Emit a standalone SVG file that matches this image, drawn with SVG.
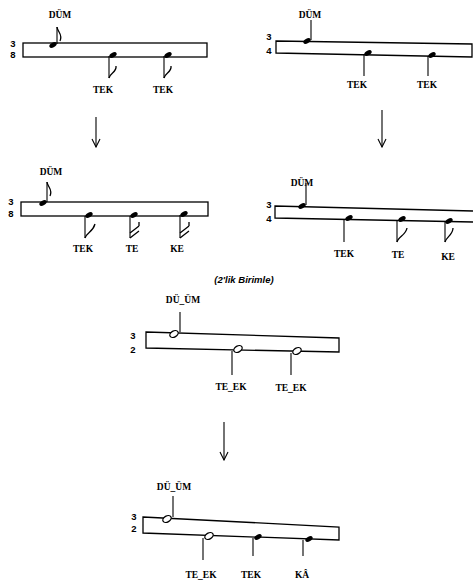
<svg xmlns="http://www.w3.org/2000/svg" width="473" height="585" viewBox="0 0 473 585">
<style>
.bar{fill:none;stroke:#000;stroke-width:1.3;stroke-linejoin:miter}
.stem{fill:none;stroke:#000;stroke-width:1.1}
.flag{fill:none;stroke:#000;stroke-width:1.3}
.head{fill:#000}
.hollow{fill:#fff;stroke:#000;stroke-width:1.3}
.lbl{font-family:"Liberation Serif",serif;font-size:9.5px;font-weight:bold;text-anchor:middle;fill:#000}
.ts{font-family:"Liberation Sans",sans-serif;font-size:9.5px;font-weight:bold;text-anchor:middle;fill:#000}
.cap{font-family:"Liberation Sans",sans-serif;font-size:9.5px;font-style:italic;font-weight:bold;text-anchor:middle;fill:#000}
.arrow{fill:none;stroke:#000;stroke-width:1.1}
</style>
<defs>
<marker id="ah" markerWidth="10" markerHeight="10" refX="9" refY="5" orient="auto" markerUnits="userSpaceOnUse" viewBox="0 0 10 10">
<path d="M1,1 L9,5 L1,9" fill="none" stroke="#000" stroke-width="1.1"/>
</marker>
</defs>
<rect width="473" height="585" fill="#fff"/>

<g id="panel1">
<rect class="bar" x="23" y="43" width="184" height="14"/>
<text class="ts" x="13" y="47">3</text>
<text class="ts" x="13" y="58">8</text>
<text class="lbl" x="60" y="18">DÜM</text>
<ellipse class="head" cx="53" cy="45" rx="4" ry="2.3" transform="rotate(-30 53 45)"/>
<path class="stem" d="M57,44 L57,27"/>
<path class="flag" d="M57,27 C58,33 63,34 60,41"/>
<ellipse class="head" cx="113" cy="55" rx="4" ry="2.3" transform="rotate(-30 113 55)"/>
<path class="stem" d="M109,56 L109,78"/>
<path class="flag" d="M109,78 C110,73 117,72 116,66"/>
<ellipse class="head" cx="168" cy="55" rx="4" ry="2.3" transform="rotate(-30 168 55)"/>
<path class="stem" d="M164,56 L164,78"/>
<path class="flag" d="M164,78 C165,73 172,72 171,66"/>
<text class="lbl" x="103" y="93">TEK</text>
<text class="lbl" x="163" y="93">TEK</text>
</g>

<g id="panel2">
<path class="bar" d="M276,41 L472,44 L472,57 L276,53 Z"/>
<text class="ts" x="269" y="40">3</text>
<text class="ts" x="269" y="54">4</text>
<text class="lbl" x="310" y="18">DÜM</text>
<ellipse class="head" cx="307" cy="41" rx="4" ry="2.3" transform="rotate(-30 307 41)"/>
<path class="stem" d="M311,40 L311,20"/>
<ellipse class="head" cx="368" cy="53" rx="4" ry="2.3" transform="rotate(-30 368 53)"/>
<path class="stem" d="M364,54 L364,76"/>
<ellipse class="head" cx="432" cy="55" rx="4" ry="2.3" transform="rotate(-30 432 55)"/>
<path class="stem" d="M428,56 L428,76"/>
<text class="lbl" x="357" y="88">TEK</text>
<text class="lbl" x="427" y="88">TEK</text>
</g>

<g id="panel3">
<rect class="bar" x="21" y="202" width="187" height="14"/>
<text class="ts" x="11" y="205">3</text>
<text class="ts" x="11" y="217">8</text>
<text class="lbl" x="51" y="175">DÜM</text>
<ellipse class="head" cx="43" cy="203" rx="4" ry="2.3" transform="rotate(-30 43 203)"/>
<path class="stem" d="M47,202 L47,182"/>
<path class="flag" d="M47,182 C48,188 53,189 50,196"/>
<ellipse class="head" cx="89" cy="215" rx="4" ry="2.3" transform="rotate(-30 89 215)"/>
<path class="stem" d="M85,216 L85,238"/>
<path class="flag" d="M85,238 C86,233 93,232 95,224"/>
<ellipse class="head" cx="134" cy="215" rx="4" ry="2.3" transform="rotate(-30 134 215)"/>
<path class="stem" d="M130,216 L130,238"/>
<path class="flag" d="M130,238 L139,231 M130,233 L139,226 M139,226 L139,222"/>
<ellipse class="head" cx="184" cy="214" rx="4" ry="2.3" transform="rotate(-30 184 214)"/>
<path class="stem" d="M180,215 L180,238"/>
<path class="flag" d="M180,238 L189,231 M180,233 L189,226 M189,226 L189,222"/>
<text class="lbl" x="83" y="252">TEK</text>
<text class="lbl" x="132" y="252">TE</text>
<text class="lbl" x="177" y="252">KE</text>
</g>

<g id="panel4">
<path class="bar" d="M473,211 L275,206 L275,218 L473,222"/>
<text class="ts" x="269" y="208">3</text>
<text class="ts" x="269" y="222">4</text>
<text class="lbl" x="302" y="186">DÜM</text>
<ellipse class="head" cx="302" cy="206" rx="4" ry="2.3" transform="rotate(-30 302 206)"/>
<path class="stem" d="M306,205 L306,183"/>
<ellipse class="head" cx="349" cy="218" rx="4" ry="2.3" transform="rotate(-30 349 218)"/>
<path class="stem" d="M344,219 L344,242"/>
<ellipse class="head" cx="402" cy="219" rx="4" ry="2.3" transform="rotate(-30 402 219)"/>
<path class="stem" d="M397,220 L397,242"/>
<path class="flag" d="M397,242 C398,237 406,235 407,228"/>
<ellipse class="head" cx="449" cy="221" rx="4" ry="2.3" transform="rotate(-30 449 221)"/>
<path class="stem" d="M445,222 L445,242"/>
<path class="flag" d="M445,242 C446,237 453,235 453,228"/>
<text class="lbl" x="344" y="257">TEK</text>
<text class="lbl" x="398" y="258">TE</text>
<text class="lbl" x="448" y="260">KE</text>
</g>

<g id="caption">
<text class="cap" x="244" y="283">(2'lik Birimle)</text>
</g>

<g id="panel5">
<path class="bar" d="M146,332 L339,338 L339,352 L146,348 Z"/>
<text class="ts" x="133" y="339">3</text>
<text class="ts" x="133" y="353">2</text>
<text class="lbl" x="183" y="303">DÜ_ÜM</text>
<ellipse class="hollow" cx="174" cy="334" rx="4.5" ry="3" transform="rotate(-30 174 334)"/>
<path class="stem" d="M180,332 L180,312"/>
<ellipse class="hollow" cx="238" cy="349" rx="4.5" ry="3" transform="rotate(-30 238 349)"/>
<path class="stem" d="M232,351 L232,375"/>
<ellipse class="hollow" cx="297" cy="351" rx="4.5" ry="3" transform="rotate(-30 297 351)"/>
<path class="stem" d="M291,353 L291,375"/>
<text class="lbl" x="231" y="390">TE_EK</text>
<text class="lbl" x="291" y="391">TE_EK</text>
</g>

<g id="panel6">
<path class="bar" d="M143,517 L339,527 L339,540 L143,533 Z"/>
<text class="ts" x="134" y="520">3</text>
<text class="ts" x="134" y="532">2</text>
<text class="lbl" x="174" y="490">DÜ_ÜM</text>
<ellipse class="hollow" cx="167" cy="519" rx="4.5" ry="3" transform="rotate(-30 167 519)"/>
<path class="stem" d="M173,517 L173,496"/>
<ellipse class="hollow" cx="209" cy="536" rx="4.5" ry="3" transform="rotate(-30 209 536)"/>
<path class="stem" d="M203,538 L203,560"/>
<ellipse class="head" cx="258" cy="537" rx="4" ry="2.3" transform="rotate(-30 258 537)"/>
<path class="stem" d="M253,538 L253,556"/>
<ellipse class="head" cx="309" cy="539" rx="4" ry="2.3" transform="rotate(-30 309 539)"/>
<path class="stem" d="M303,540 L303,556"/>
<text class="lbl" x="201" y="578">TE_EK</text>
<text class="lbl" x="251" y="578">TEK</text>
<text class="lbl" x="302" y="578">KÂ</text>
</g>

<g id="connectors">
<path class="arrow" d="M96,117 L96,147" marker-end="url(#ah)"/>
<path class="arrow" d="M382,110 L382,147" marker-end="url(#ah)"/>
<path class="arrow" d="M224,422 L224,460" marker-end="url(#ah)"/>
</g>
</svg>
